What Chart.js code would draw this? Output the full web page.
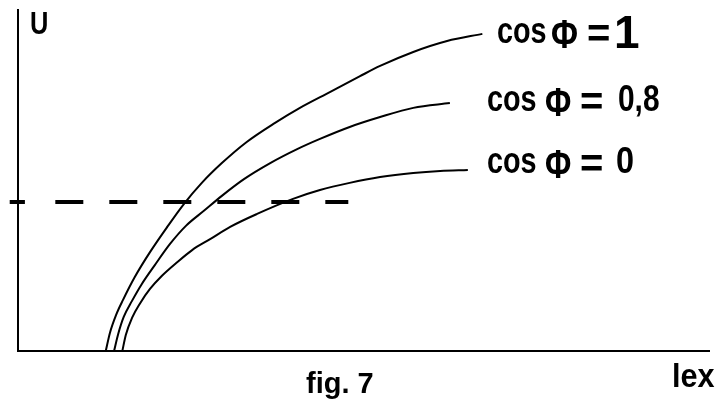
<!DOCTYPE html>
<html>
<head>
<meta charset="utf-8">
<script src="https://cdn.jsdelivr.net/npm/chart.js@4.4.1/dist/chart.umd.min.js"></script>
<style>
  body { margin: 0; background: #fff; }
  #wrap { width: 722px; height: 404px; }
</style>
</head>
<body>
<div id="wrap"><canvas id="fig7"></canvas></div>
<script>
// excitation current (Iex) and terminal voltage (U), arbitrary units
const iexCos1 = [1.27, 1.33, 1.42, 1.52, 1.69, 1.91, 2.16, 2.40, 2.66, 2.95, 3.31, 3.72, 4.08, 4.52, 4.95, 5.24, 5.72, 6.21, 6.72];
const uCos1   = [0.00, 0.53, 1.06, 1.50, 2.17, 2.90, 3.64, 4.31, 4.93, 5.51, 6.13, 6.69, 7.13, 7.60, 8.06, 8.36, 8.77, 9.09, 9.30];

const iexCos08 = [1.39, 1.45, 1.53, 1.65, 1.79, 1.98, 2.20, 2.43, 2.69, 2.95, 3.27, 3.65, 4.04, 4.37, 4.80, 5.24, 5.72, 6.25];
const uCos08   = [0.00, 0.50, 1.00, 1.47, 1.96, 2.52, 3.14, 3.67, 4.11, 4.55, 5.04, 5.51, 5.92, 6.22, 6.57, 6.86, 7.13, 7.27];

const iexCos0 = [1.51, 1.56, 1.65, 1.77, 1.91, 2.08, 2.29, 2.52, 2.78, 3.07, 3.46, 3.98, 4.37, 4.80, 5.24, 5.72, 6.11, 6.51];
const uCos0   = [0.00, 0.47, 0.97, 1.41, 1.82, 2.20, 2.58, 2.96, 3.28, 3.64, 4.02, 4.46, 4.72, 4.93, 5.10, 5.22, 5.28, 5.31];

// rated voltage level (dashed) and its tick on the U axis
const uRated = 4.37;
const iexRated = [0.54, 4.78];
const iexTick = [-0.12, 0.10];

function toPoints(xs, ys) {
    return xs.map((x, i) => ({ x: x, y: ys[i] }));
}

function curve(xs, ys) {
    return {
        data: toPoints(xs, ys),
        borderColor: '#000',
        borderWidth: 2,
        pointRadius: 0,
        cubicInterpolationMode: 'monotone',
        clip: false
    };
}

function font(size, weight) {
    return (weight || 'bold') + " " + size + "px 'Liberation Sans', Arial, sans-serif";
}

// scanned figure uses a condensed bold face, so texts get a horizontal squeeze (sx)
const figureTexts = [
    { text: 'cos', font: font(36), x: 497, y: 43, sx: 0.8 },
    { text: 'Φ',   font: font(40), x: 551, y: 48, sx: 0.82 },
    { text: '=',   font: font(40), x: 587, y: 47, sx: 1 },
    { text: '1',   font: font(46), x: 614, y: 48, sx: 1 },

    { text: 'cos', font: font(36), x: 487, y: 111, sx: 0.8 },
    { text: 'Φ',   font: font(40), x: 545, y: 116, sx: 0.8 },
    { text: '=',   font: font(40), x: 580, y: 115, sx: 1 },
    { text: '0,8', font: font(36), x: 618, y: 111, sx: 0.83 },

    { text: 'cos', font: font(36), x: 487, y: 173, sx: 0.8 },
    { text: 'Φ',   font: font(40), x: 545, y: 178, sx: 0.8 },
    { text: '=',   font: font(40), x: 580, y: 177, sx: 1 },
    { text: '0',   font: font(36), x: 616, y: 173, sx: 0.9 },

    { text: 'U',      font: font(31), x: 30, y: 34, sx: 0.82 },
    { text: 'fig. 7', font: font(29), x: 306, y: 393, sx: 1 },
    { text: 'lex',    font: font(34), x: 672, y: 387, sx: 0.9 }
];

const textPlugin = {
    id: 'figureText',
    afterDraw(chart) {
        const ctx = chart.ctx;
        figureTexts.forEach(t => {
            ctx.save();
            ctx.fillStyle = '#000';
            ctx.textBaseline = 'alphabetic';
            ctx.textAlign = 'left';
            ctx.font = t.font;
            ctx.translate(t.x, t.y);
            ctx.scale(t.sx, 1);
            ctx.fillText(t.text, 0, 0);
            ctx.restore();
        });
    }
};

const rated = {
    data: toPoints(iexRated, [uRated, uRated]),
    borderColor: '#000',
    borderWidth: 4,
    borderDash: [28, 26],
    borderCapStyle: 'butt',
    pointRadius: 0,
    clip: false
};

const tick = {
    data: toPoints(iexTick, [uRated, uRated]),
    borderColor: '#000',
    borderWidth: 4,
    pointRadius: 0,
    clip: false
};

new Chart(document.getElementById('fig7'), {
    type: 'line',
    data: {
        datasets: [
            curve(iexCos1, uCos1),
            curve(iexCos08, uCos08),
            curve(iexCos0, uCos0),
            rated,
            tick
        ]
    },
    options: {
        responsive: true,
        maintainAspectRatio: false,
        animation: false,
        layout: { padding: { left: 18, right: 13, top: 10, bottom: 53 } },
        plugins: {
            legend: { display: false },
            tooltip: { enabled: false }
        },
        scales: {
            x: {
                type: 'linear',
                min: 0,
                max: 10,
                grid: { display: false, drawTicks: false },
                ticks: { display: false },
                border: { display: true, color: '#000', width: 2 }
            },
            y: {
                type: 'linear',
                min: 0,
                max: 10,
                grid: { display: false, drawTicks: false },
                ticks: { display: false },
                border: { display: true, color: '#000', width: 2 }
            }
        }
    },
    plugins: [textPlugin]
});
</script>
</body>
</html>
